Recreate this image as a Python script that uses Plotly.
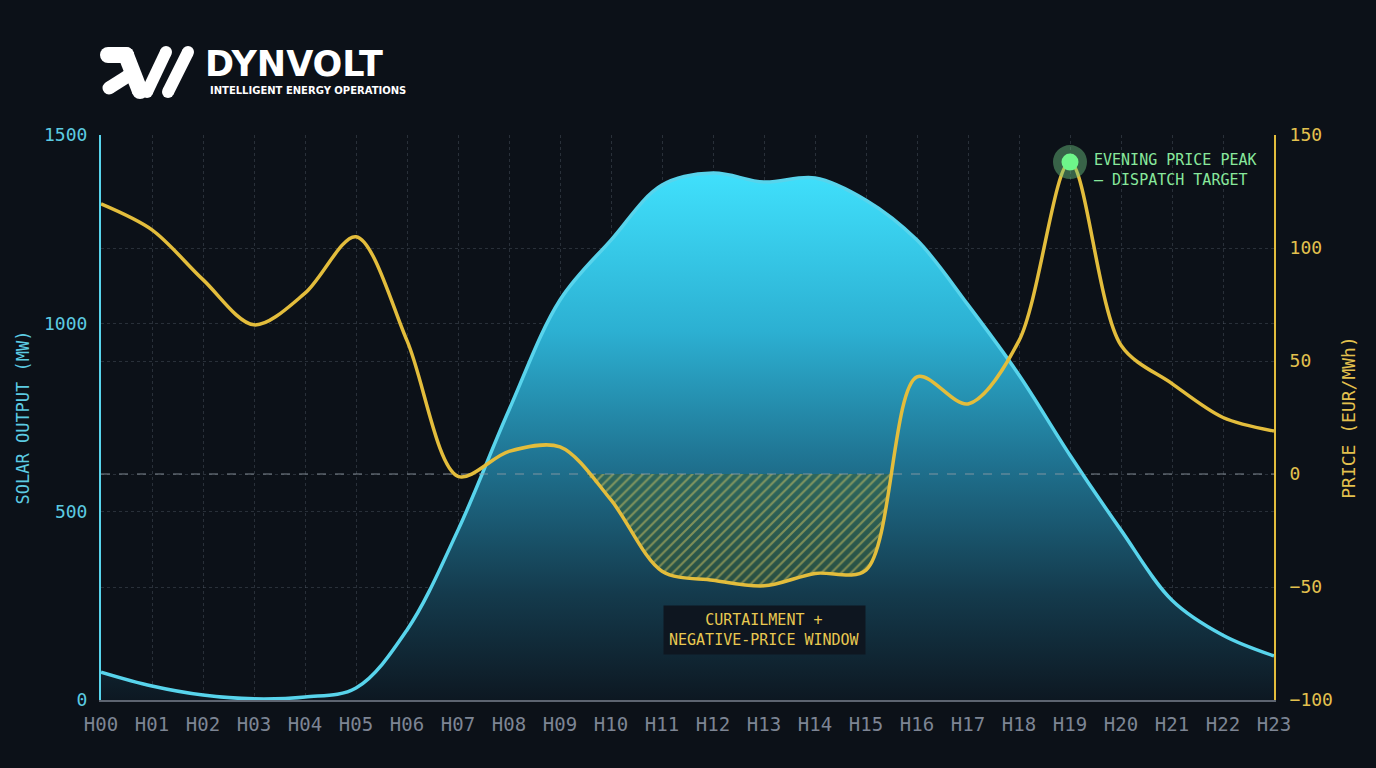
import plotly.graph_objects as go

hours = list(range(24))
hour_labels = [f"H{h:02d}" for h in hours]
solar_mw = [74, 37, 13, 3, 8, 32, 186, 451, 770, 1062, 1221, 1367, 1399, 1375,
            1386, 1327, 1221, 1049, 863, 650, 451, 265, 172, 117]
price_eur = [119.5, 108, 86, 66, 80, 105, 59, -1, 10, 12, -11.5, -43, -47, -49.5,
             -44, -42.5, 43, 31, 59, 138, 57, 40, 25, 19]
left_ticks = [0, 500, 1000, 1500]
right_ticks = [-100, -50, 0, 50, 100, 150]
peak_hour = 19

BG = "#0c1118"
CYAN = "#58d4ec"
CYAN_TXT = "#5ccbe2"
YEL = "#e3bd3c"
YEL_TXT = "#e3c14e"
GREY = "#7d8594"
GRID = "rgba(120,130,145,0.28)"
MONO = "DejaVu Sans Mono"

# negative-price window from the data (linear zero crossings)
neg = [i for i, p in enumerate(price_eur) if p < 0 and 9 <= i <= 16]
i0, i1 = neg[0], neg[-1]
c0 = (i0 - 1) + price_eur[i0 - 1] / (price_eur[i0 - 1] - price_eur[i0])
c1 = i1 + price_eur[i1] / (price_eur[i1] - price_eur[i1 + 1])
win_x = [c0] + list(range(i0, i1 + 1)) + [c1]
win_y = [0] + price_eur[i0:i1 + 1] + [0]

fig = go.Figure()

fig.add_trace(go.Scatter(
    x=hours, y=solar_mw, mode="lines", line=dict(color=CYAN, width=3.5, shape="spline", smoothing=1.0),
    fill="tozeroy",
    fillgradient=dict(type="vertical",
                      colorscale=[[0, "#0d1822"], [0.2, "#143a4c"], [0.45, "#1f7290"],
                                  [0.7, "#2cb0d2"], [1, "#40e0fc"]]),
    hoverinfo="skip", showlegend=False))

fig.add_trace(go.Scatter(
    x=win_x, y=win_y, yaxis="y2", mode="lines", line=dict(width=0, shape="spline"),
    fill="tozeroy",
    fillpattern=dict(shape="/", fgcolor="rgba(228,208,100,0.9)", bgcolor="rgba(60,95,50,0.5)",
                     size=7, solidity=0.3),
    hoverinfo="skip", showlegend=False))

# dashed zero reference line (drawn from the price axis)
fig.add_trace(go.Scatter(
    x=[hours[0], hours[-1]], y=[0, 0], yaxis="y2", mode="lines",
    line=dict(color="rgba(150,158,168,0.55)", width=1.5, dash="dash"),
    hoverinfo="skip", showlegend=False))

fig.add_trace(go.Scatter(
    x=hours, y=price_eur, yaxis="y2", mode="lines",
    line=dict(color=YEL, width=3.5, shape="spline", smoothing=0.9),
    hoverinfo="skip", showlegend=False))

fig.add_trace(go.Scatter(
    x=[peak_hour], y=[price_eur[peak_hour]], yaxis="y2", mode="markers",
    marker=dict(size=34, color="rgba(110,200,130,0.45)", line=dict(width=0)),
    hoverinfo="skip", showlegend=False))
fig.add_trace(go.Scatter(
    x=[peak_hour], y=[price_eur[peak_hour]], yaxis="y2", mode="markers",
    marker=dict(size=17, color="#6ef58a", line=dict(width=0)),
    hoverinfo="skip", showlegend=False))

fig.update_layout(
    width=1376, height=768, paper_bgcolor=BG, plot_bgcolor=BG,
    margin=dict(l=101, r=102, t=135, b=68),
    xaxis=dict(range=[0, 23], tickvals=hours, ticktext=hour_labels,
               tickfont=dict(family=MONO, size=19, color=GREY), ticklabelstandoff=6,
               showgrid=True, gridcolor=GRID, griddash="dot", gridwidth=1,
               showline=True, linecolor="#5d6470", linewidth=2, zeroline=False, ticks=""),
    yaxis=dict(range=[0, 1500], tickvals=left_ticks,
               tickfont=dict(family=MONO, size=18, color=CYAN_TXT), ticklabelstandoff=8,
               title=dict(text="SOLAR OUTPUT (MW)", font=dict(family=MONO, size=17, color=CYAN_TXT), standoff=10),
               showgrid=True, gridcolor=GRID, griddash="dot",
               showline=True, linecolor=CYAN, linewidth=2, zeroline=False, ticks=""),
    yaxis2=dict(range=[-100, 150], tickvals=right_ticks, overlaying="y", side="right",
                tickfont=dict(family=MONO, size=18, color=YEL_TXT), ticklabelstandoff=10,
                title=dict(text="PRICE (EUR/MWh)", font=dict(family=MONO, size=18, color=YEL_TXT), standoff=10),
                showgrid=True, gridcolor=GRID, griddash="dot",
                showline=True, linecolor=YEL, linewidth=2, zeroline=False, ticks=""),
    showlegend=False,
)

fig.add_annotation(x=peak_hour, y=price_eur[peak_hour], yref="y2", xref="x",
                   text="EVENING PRICE PEAK<br>— DISPATCH TARGET", showarrow=False,
                   xanchor="left", yanchor="middle", xshift=22, yshift=-8, align="left",
                   font=dict(family=MONO, size=15, color="#88e89c"))

fig.add_annotation(x=13, y=-69, yref="y2", xref="x",
                   text="CURTAILMENT +<br>NEGATIVE-PRICE WINDOW", showarrow=False,
                   xanchor="center", yanchor="middle", align="center",
                   bgcolor="#0e1620", borderpad=5,
                   font=dict(family=MONO, size=15, color="#e8c850"))

# ---- logo ----
L, R, T, B = 101, 1274, 135, 700
def px(x): return (x - L) / (R - L)
def py(y): return (B - y) / (B - T)

def stroke(x0, y0, x1, y1, w):
    fig.add_shape(type="line", xref="paper", yref="paper", x0=px(x0), y0=py(y0), x1=px(x1), y1=py(y1),
                  line=dict(color="white", width=w))
    for (cx, cy) in [(x0, y0), (x1, y1)]:
        r = w / 2
        fig.add_shape(type="circle", xref="paper", yref="paper",
                      x0=px(cx - r), x1=px(cx + r), y0=py(cy + r), y1=py(cy - r),
                      fillcolor="white", line=dict(width=0))

stroke(108, 55, 126, 55, 16)
stroke(126, 55, 140, 91, 16)
stroke(109, 88, 128, 76, 13)
stroke(166, 52, 147, 92, 12)
stroke(188, 52, 168, 92, 12)

fig.add_annotation(xref="paper", yref="paper", x=px(203), y=py(64), text="DYNVOLT", showarrow=False,
                   xanchor="left", yanchor="middle",
                   font=dict(family="DejaVu Sans", size=35, color="white", weight="bold"))
fig.add_annotation(xref="paper", yref="paper", x=px(208), y=py(90), text="INTELLIGENT ENERGY OPERATIONS",
                   showarrow=False, xanchor="left", yanchor="middle",
                   font=dict(family="DejaVu Sans", size=10, color="white", weight="bold"))

fig.write_html("out.html", config={"displayModeBar": False})
